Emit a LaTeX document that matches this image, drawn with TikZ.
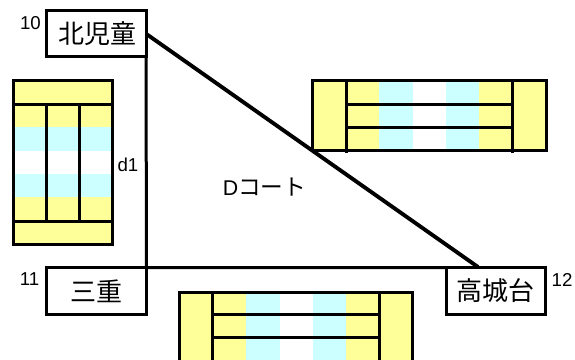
\documentclass[tikz,border=0pt]{standalone}
\usepackage{fontspec}
\setmainfont{Liberation Sans}
\newfontfamily\cjk{Noto Sans CJK JP}
\definecolor{cy}{HTML}{FFFF99}
\definecolor{cc}{HTML}{CCFFFF}
\tikzset{
  ln/.style={draw=black,line width=2.25pt},
  site/.style={ln,fill=white,inner sep=0pt,outer sep=0pt,font=\cjk\fontsize{19.5}{20}\selectfont},
  lab/.style={inner sep=0pt,font=\fontsize{14}{16}\selectfont},
}
\begin{document}
\begin{tikzpicture}[x=0.75pt,y=-0.75pt]
\useasboundingbox (0,0) rectangle (575,360);
\fill[white] (0,0) rectangle (575,360);
% left court
\fill[cy] (13.5,80.5) rectangle (112.5,127);
\fill[cc] (13.5,127) rectangle (112.5,151);
\fill[white] (13.5,151) rectangle (112.5,174);
\fill[cc] (13.5,174) rectangle (112.5,197);
\fill[cy] (13.5,197) rectangle (112.5,244.5);
\draw[ln] (13.5,80.5) rectangle (112.5,244.5);
\draw[ln] (13.5,104.7) -- (112.5,104.7) (13.5,221.3) -- (112.5,221.3);
\draw[ln] (46.5,104.7) -- (46.5,221.3) (79.5,104.7) -- (79.5,221.3);
% right court
\fill[cy] (312.5,80.5) rectangle (379.3,150.5);
\fill[cc] (379.3,80.5) rectangle (413,150.5);
\fill[cc] (446,80.5) rectangle (479,150.5);
\fill[cy] (479,80.5) rectangle (546,150.5);
\draw[ln] (312.5,80.5) rectangle (546,150.5);
\draw[ln] (346.5,80.5) -- (346.5,152.5) (512.5,80.5) -- (512.5,152.5);
\draw[ln] (346.5,104.5) -- (512.5,104.5) (346.5,127.5) -- (512.5,127.5);
% bottom court
\fill[cy] (179.5,292) rectangle (246,362);
\fill[cc] (246,292) rectangle (280,362);
\fill[cc] (313,292) rectangle (345.7,362);
\fill[cy] (345.7,292) rectangle (412.5,362);
\draw[ln] (179.5,365) -- (179.5,292) -- (412.5,292) -- (412.5,365);
\draw[ln] (212.7,292) -- (212.7,365) (379.7,292) -- (379.7,365);
\draw[ln] (212.7,314.5) -- (379.7,314.5) (212.7,337.5) -- (379.7,337.5);
% sites
\node[site,minimum width=99.5*0.75pt,minimum height=46.5*0.75pt] (kita) at (96.25,33.75) {\hspace*{1.5pt}北児童};
\node[site,minimum width=100*0.75pt,minimum height=47*0.75pt] (mie) at (96.5,291) {三重};
\node[site,minimum width=99.5*0.75pt,minimum height=46.5*0.75pt] (kojo) at (495.75,290.75) {高城台};
\coordinate (diagend) at (478,267);
\draw[ln] (kita.south east) -- (mie.north east) -- (kojo.north west);
\draw[ln,line width=2.9pt] (kita.east) -- (diagend);
% labels
\node[lab] (n10) at (30.5,23) {10};
\node[lab] (n11) at (29.5,279) {11};
\node[lab] (n12) at (562,280) {12};
\node[lab] (d1) at (128,165) {d1};
\node[lab,font=\fontsize{16}{18}\selectfont] (dc) at (264.5,187) {D{\cjk\fontsize{17}{18}\selectfont コート}};
\end{tikzpicture}
\end{document}
